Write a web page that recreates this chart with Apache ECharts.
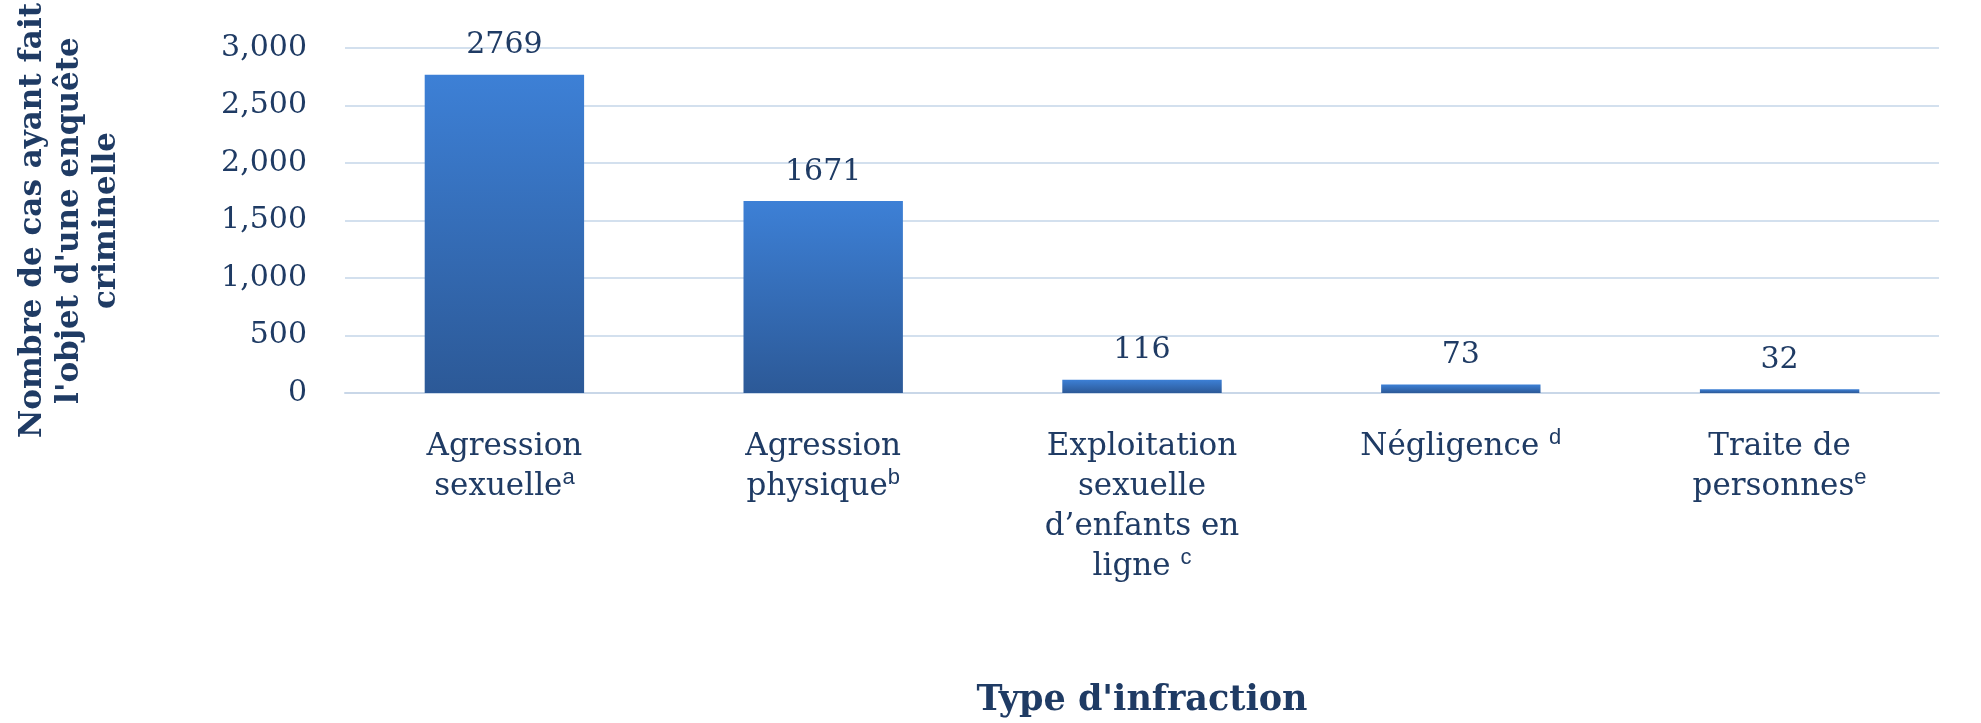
<!DOCTYPE html>
<html><head><meta charset="utf-8">
<script src="https://cdn.jsdelivr.net/npm/echarts@6/dist/echarts.min.js"></script>
<style>html,body{margin:0;padding:0;background:#fff}#c{width:1981px;height:723px}</style>
</head><body><div id="c"></div>
<script>
const categories = ['Agression\nsexuelle{sup|a}', 'Agression\nphysique{sup|b}', 'Exploitation\nsexuelle\nd\u2019enfants en\nligne {sup|c}', 'Négligence {sup|d}', 'Traite de\npersonnes{sup|e}'];
const values = [2769, 1671, 116, 73, 32];
const yTicks = [0, 500, 1000, 1500, 2000, 2500, 3000];
const textColor = '#1f3b64';
const font = 'DejaVu Serif, Liberation Serif, serif';
const chart = echarts.init(document.getElementById('c'));
chart.setOption({
  animation: false,
  grid: {left: 345, right: 42, top: 40, bottom: 330},
  xAxis: {
    type: 'category', data: categories,
    axisLine: {lineStyle: {color: '#c9d7e8', width: 2}},
    axisTick: {show: false},
    axisLabel: {color: textColor, fontFamily: font, fontSize: 31, margin: 34, lineHeight: 40, interval: 0,
      rich: {sup: {fontSize: 22, verticalAlign: 'top', color: textColor, fontFamily: 'Liberation Sans, sans-serif', padding: [0,0,18,0]}}},
    name: "Type d'infraction", nameLocation: 'middle', nameGap: 290,
    nameTextStyle: {color: textColor, fontFamily: font, fontSize: 35, fontWeight: 'bold'}
  },
  yAxis: {
    type: 'value', min: yTicks[0], max: yTicks[yTicks.length-1], interval: 500,
    axisLabel: {color: textColor, fontFamily: font, fontSize: 30, margin: 38,
      formatter: v => v.toLocaleString('en-US')},
    splitLine: {lineStyle: {color: '#d3e0ee', width: 2}},
    axisLine: {show: false},
    name: "Nombre de cas ayant fait\nl'objet d'une enquête\ncriminelle", nameLocation: 'middle', nameGap: 220,
    nameTextStyle: {color: textColor, fontFamily: font, fontSize: 31, fontWeight: 'bold', lineHeight: 37}
  },
  series: [{
    type: 'bar', data: values, barWidth: '50%',
    itemStyle: {color: new echarts.graphic.LinearGradient(0,0,0,1,[{offset:0,color:'#3d80d6'},{offset:1,color:'#2c5997'}])},
    label: {show: true, position: 'top', distance: 14, color: textColor, fontFamily: font, fontSize: 30}
  }]
});
</script></body></html>
